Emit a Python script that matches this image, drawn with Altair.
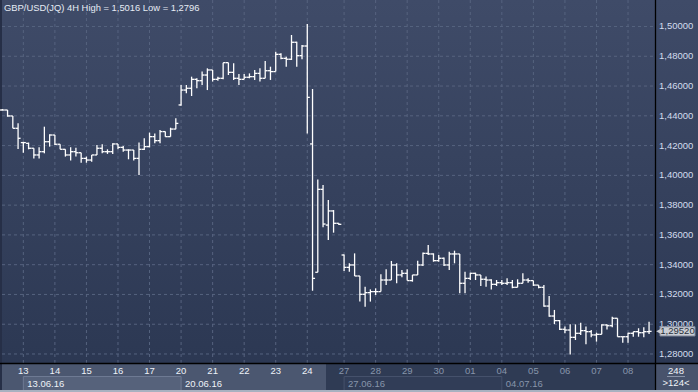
import altair as alt
import pandas as pd

# ---- OHLC data (GBP/USD 4H) ----
opens = [1.4439, 1.4439, 1.4399, 1.4316, 1.4220, 1.4215, 1.4182, 1.4137, 1.4159, 1.4226,
         1.4271, 1.4209, 1.4175, 1.4137, 1.4159, 1.4152, 1.4114, 1.4103, 1.4137, 1.4182,
         1.4159, 1.4159, 1.4211, 1.4188, 1.4170, 1.4170, 1.4114, 1.4175, 1.4193, 1.4260,
         1.4233, 1.4294, 1.4260, 1.4311, 1.4473, 1.4573, 1.4585, 1.4645, 1.4636, 1.4674,
         1.4708, 1.4645, 1.4652, 1.4757, 1.4692, 1.4652, 1.4645, 1.4659, 1.4663, 1.4685,
         1.4652, 1.4703, 1.4697, 1.4813, 1.4786, 1.4780, 1.4894, 1.4804, 1.4869, 1.4211,
         1.3349, 1.3906, 1.3666, 1.3761, 1.3678, 1.3465, 1.3382, 1.3398, 1.3324, 1.3201,
         1.3212, 1.3219, 1.3219, 1.3297, 1.3297, 1.3398, 1.3331, 1.3342, 1.3293, 1.3331,
         1.3398, 1.3476, 1.3472, 1.3427, 1.3443, 1.3398, 1.3472, 1.3472, 1.3275, 1.3308,
         1.3342, 1.3331, 1.3302, 1.3297, 1.3268, 1.3279, 1.3275, 1.3279, 1.3248, 1.3275,
         1.3297, 1.3293, 1.3263, 1.3248, 1.3122, 1.3055, 1.3024, 1.2966, 1.2961, 1.2912,
         1.2939, 1.2957, 1.2950, 1.2928, 1.2932, 1.2995, 1.2990, 1.3040, 1.2916, 1.2916,
         1.2939, 1.2950, 1.2943, 1.2950]
highs = [1.4446, 1.4439, 1.4399, 1.4350, 1.4226, 1.4220, 1.4182, 1.4189, 1.4327, 1.4276,
         1.4271, 1.4209, 1.4175, 1.4189, 1.4186, 1.4152, 1.4126, 1.4137, 1.4204, 1.4209,
         1.4175, 1.4215, 1.4211, 1.4197, 1.4175, 1.4170, 1.4220, 1.4249, 1.4287, 1.4282,
         1.4305, 1.4294, 1.4320, 1.4383, 1.4607, 1.4607, 1.4663, 1.4652, 1.4697, 1.4719,
         1.4708, 1.4663, 1.4757, 1.4757, 1.4753, 1.4681, 1.4681, 1.4685, 1.4708, 1.4719,
         1.4768, 1.4730, 1.4831, 1.4820, 1.4797, 1.4943, 1.4898, 1.4876, 1.5016, 1.4580,
         1.3973, 1.3935, 1.3834, 1.3767, 1.3678, 1.3469, 1.3409, 1.3476, 1.3324, 1.3252,
         1.3234, 1.3241, 1.3335, 1.3369, 1.3425, 1.3409, 1.3364, 1.3369, 1.3331, 1.3427,
         1.3481, 1.3532, 1.3476, 1.3465, 1.3449, 1.3487, 1.3494, 1.3472, 1.3353, 1.3346,
         1.3346, 1.3331, 1.3320, 1.3302, 1.3297, 1.3297, 1.3308, 1.3297, 1.3302, 1.3342,
         1.3308, 1.3293, 1.3263, 1.3263, 1.3190, 1.3096, 1.3029, 1.2984, 1.2999, 1.2999,
         1.3010, 1.2984, 1.2961, 1.2943, 1.2999, 1.2999, 1.3050, 1.3040, 1.2916, 1.2943,
         1.2950, 1.2973, 1.2979, 1.3017]
lows = [1.4435, 1.4394, 1.4316, 1.4177, 1.4152, 1.4175, 1.4114, 1.4114, 1.4148, 1.4193,
        1.4204, 1.4175, 1.4126, 1.4099, 1.4126, 1.4085, 1.4085, 1.4092, 1.4137, 1.4148,
        1.4144, 1.4144, 1.4175, 1.4159, 1.4108, 1.4099, 1.4002, 1.4170, 1.4188, 1.4215,
        1.4215, 1.4260, 1.4260, 1.4309, 1.4468, 1.4551, 1.4533, 1.4585, 1.4607, 1.4573,
        1.4630, 1.4636, 1.4645, 1.4674, 1.4641, 1.4607, 1.4645, 1.4652, 1.4641, 1.4630,
        1.4652, 1.4641, 1.4697, 1.4780, 1.4730, 1.4775, 1.4730, 1.4780, 1.4282, 1.3225,
        1.3349, 1.3651, 1.3566, 1.3615, 1.3666, 1.3357, 1.3353, 1.3324, 1.3152, 1.3118,
        1.3152, 1.3196, 1.3219, 1.3263, 1.3297, 1.3275, 1.3315, 1.3293, 1.3286, 1.3331,
        1.3391, 1.3465, 1.3420, 1.3420, 1.3391, 1.3364, 1.3409, 1.3208, 1.3208, 1.3297,
        1.3297, 1.3257, 1.3252, 1.3234, 1.3257, 1.3263, 1.3263, 1.3241, 1.3248, 1.3275,
        1.3279, 1.3257, 1.3241, 1.3118, 1.3051, 1.3001, 1.2961, 1.2939, 1.2796, 1.2894,
        1.2928, 1.2865, 1.2912, 1.2883, 1.2932, 1.2965, 1.2979, 1.2916, 1.2876, 1.2876,
        1.2916, 1.2916, 1.2912, 1.2934]
closes = [1.4439, 1.4399, 1.4316, 1.4249, 1.4220, 1.4182, 1.4137, 1.4159, 1.4226, 1.4271,
          1.4209, 1.4175, 1.4137, 1.4159, 1.4152, 1.4114, 1.4103, 1.4137, 1.4182, 1.4159,
          1.4159, 1.4211, 1.4188, 1.4170, 1.4170, 1.4114, 1.4175, 1.4193, 1.4260, 1.4233,
          1.4294, 1.4260, 1.4311, 1.4349, 1.4573, 1.4585, 1.4645, 1.4636, 1.4674, 1.4708,
          1.4645, 1.4652, 1.4757, 1.4692, 1.4652, 1.4645, 1.4659, 1.4663, 1.4685, 1.4652,
          1.4703, 1.4697, 1.4813, 1.4786, 1.4780, 1.4894, 1.4804, 1.4869, 1.4524, 1.3308,
          1.3906, 1.3673, 1.3761, 1.3678, 1.3671, 1.3382, 1.3398, 1.3324, 1.3201, 1.3212,
          1.3219, 1.3219, 1.3297, 1.3297, 1.3398, 1.3331, 1.3342, 1.3293, 1.3331, 1.3398,
          1.3476, 1.3472, 1.3427, 1.3443, 1.3398, 1.3472, 1.3472, 1.3275, 1.3308, 1.3342,
          1.3331, 1.3302, 1.3297, 1.3268, 1.3279, 1.3275, 1.3279, 1.3248, 1.3275, 1.3297,
          1.3293, 1.3263, 1.3248, 1.3122, 1.3055, 1.3024, 1.2966, 1.2961, 1.2912, 1.2939,
          1.2957, 1.2950, 1.2928, 1.2932, 1.2995, 1.2990, 1.3040, 1.2916, 1.2916, 1.2939,
          1.2950, 1.2943, 1.2950, 1.2952]

price_ticks = [1.28, 1.30, 1.32, 1.34, 1.36, 1.38, 1.40, 1.42, 1.44, 1.46, 1.48, 1.50]
day_labels = ["13", "14", "15", "16", "17", "20", "21", "22", "23", "24",
              "27", "28", "29", "30", "01", "04", "05", "06", "07", "08"]
day_start = [4, 10, 16, 22, 28, 34, 40, 46, 52, 58,
             65, 71, 77, 83, 89, 95, 101, 107, 113, 119]
week_labels = ["13.06.16", "20.06.16", "27.06.16", "04.07.16"]
week_start = [4, 34, 65, 95]
title_text = "GBP/USD(JQ) 4H High = 1,5016 Low = 1,2796"
bar_total = "248"
bar_shown = ">124<"

FONT = "Liberation Sans"
W, H = 655, 363
xs = alt.Scale(domain=[-0.4374, 124.13], nice=False, zero=False)
ys = alt.Scale(domain=[1.27395, 1.5178], nice=False, zero=False)

bars = pd.DataFrame({"i": list(range(len(opens))), "open": opens, "high": highs,
                     "low": lows, "close": closes})
one = pd.DataFrame({"a": [0]})
grid_y = pd.DataFrame({"p": price_ticks})
days = pd.DataFrame({"i": day_start, "lab": day_labels})
weeks = pd.DataFrame({"i": week_start, "lab": week_labels})
boxes = pd.DataFrame({"i": [week_start[0], week_start[2]], "i2": [week_start[1], week_start[3]],
                      "fill": ["#56627b", "#313d57"], "stroke": ["#6e7a93", "#45516b"]})
last = bars.tail(1)

X = lambda f: alt.X(f, scale=xs, axis=None)
Y = lambda f: alt.Y(f, scale=ys, axis=None)

bg = alt.Chart(one).mark_rect(color=alt.Gradient(
    gradient="linear",
    stops=[alt.GradientStop(color="#3f4b68", offset=0),
           alt.GradientStop(color="#2c3853", offset=1)],
    x1=0, x2=0, y1=0, y2=1)).encode(
    x=alt.value(0), x2=alt.value(698), y=alt.value(0), y2=alt.value(363))

dark_strip = alt.Chart(one).mark_rect(color="#2f3b54").encode(
    x=alt.value(326), x2=alt.value(655), y=alt.value(364), y2=alt.value(392))

corner = alt.Chart(one).mark_rect(color="#48536c").encode(
    x=alt.value(656), x2=alt.value(698), y=alt.value(364), y2=alt.value(392))

week_boxes = alt.Chart(boxes).mark_rect(strokeWidth=1).encode(
    x=X("i:Q"), x2="i2:Q", y=alt.value(376.5), y2=alt.value(391),
    fill=alt.Fill("fill:N", scale=None), stroke=alt.Stroke("stroke:N", scale=None))

left_edge = alt.Chart(one).mark_rect(color="#262f47").encode(
    x=alt.value(0), x2=alt.value(2), y=alt.value(0), y2=alt.value(392))

hgrid = alt.Chart(grid_y).mark_rule(color="#56637f", strokeDash=[3, 3], strokeWidth=1).encode(
    y=Y("p:Q"), x=alt.value(2), x2=alt.value(655))

vgrid = alt.Chart(days).mark_rule(color="#56637f", strokeDash=[3, 3], strokeWidth=1).encode(
    x=X("i:Q"), y=alt.value(0), y2=alt.value(363))

hl = alt.Chart(bars).mark_rule(color="white", strokeWidth=1.3).encode(
    x=X("i:Q"), y=Y("low:Q"), y2="high:Q")

otick = alt.Chart(bars).transform_calculate(xo="datum.i - 0.48").mark_rule(
    color="white", strokeWidth=1.3).encode(x=X("xo:Q"), x2="i:Q", y=Y("open:Q"))

ctick = alt.Chart(bars).transform_calculate(xc="datum.i + 0.48").mark_rule(
    color="white", strokeWidth=1.3).encode(x=X("i:Q"), x2="xc:Q", y=Y("close:Q"))

ylabels = alt.Chart(grid_y).transform_calculate(
    t="replace(format(datum.p, '.5f'), '.', ',')").mark_text(
    font=FONT, fontSize=9.5, color="#d3dcee", align="left", baseline="middle").encode(
    x=alt.value(659), y=Y("p:Q"), text="t:N")

day_text = alt.Chart(days).transform_calculate(
    c="datum.i >= 60 ? '#8795ab' : '#eef2f8'").mark_text(
    font=FONT, fontSize=9.5, align="center", baseline="middle").encode(
    x=X("i:Q"), y=alt.value(371), text="lab:N", color=alt.Color("c:N", scale=None))

week_text = alt.Chart(weeks).transform_calculate(
    c="datum.i >= 60 ? '#8795ab' : '#eef2f8'").mark_text(
    font=FONT, fontSize=9.5, align="left", baseline="middle", dx=4).encode(
    x=X("i:Q"), y=alt.value(383.5), text="lab:N", color=alt.Color("c:N", scale=None))

vsep = alt.Chart(one).mark_rule(color="#000000", strokeWidth=1.3).encode(
    x=alt.value(655.5), y=alt.value(0), y2=alt.value(392))
hsep = alt.Chart(one).mark_rule(color="#000000", strokeWidth=1.3).encode(
    y=alt.value(363.5), x=alt.value(0), x2=alt.value(698))
bottom_edge = alt.Chart(one).mark_rule(color="#a9b1c0", strokeWidth=2).encode(
    y=alt.value(391), x=alt.value(0), x2=alt.value(698))

tag_box = alt.Chart(last).transform_calculate(
    t1="datum.close + 0.0031", t2="datum.close - 0.0031").mark_rect(
    fill="#c9cdd4", stroke="#80889a", strokeWidth=1).encode(
    x=alt.value(660), x2=alt.value(695), y=Y("t1:Q"), y2="t2:Q")
tag_arrow = alt.Chart(last).mark_point(shape="triangle-left", filled=True, size=40,
                                       color="#c9cdd4", opacity=1).encode(
    x=alt.value(659), y=Y("close:Q"))
tag_text = alt.Chart(last).transform_calculate(
    t="replace(format(datum.close, '.5f'), '.', ',')").mark_text(
    font=FONT, fontSize=9.5, color="#2a303c", align="center", baseline="middle").encode(
    x=alt.value(677.5), y=Y("close:Q"), text="t:N")

title = alt.Chart(one).mark_text(font=FONT, fontSize=9.4, color="#e6ebf4",
                                 align="left", baseline="middle").encode(
    x=alt.value(4), y=alt.value(8), text=alt.value(title_text))

c_total = alt.Chart(one).mark_text(font=FONT, fontSize=9.5, color="#f0f3f8",
                                   align="center", baseline="middle").encode(
    x=alt.value(676), y=alt.value(370.5), text=alt.value(bar_total))
c_line = alt.Chart(one).mark_rule(color="#8a94a8", strokeWidth=1).encode(
    y=alt.value(376.5), x=alt.value(667), x2=alt.value(685))
c_shown = alt.Chart(one).mark_text(font=FONT, fontSize=9.5, color="#f0f3f8",
                                   align="center", baseline="middle").encode(
    x=alt.value(676), y=alt.value(383), text=alt.value(bar_shown))

chart = alt.layer(
    bg, dark_strip, corner, week_boxes, left_edge, hgrid, vgrid,
    hl, otick, ctick, ylabels, day_text, week_text,
    vsep, hsep, bottom_edge, tag_box, tag_arrow, tag_text, title,
    c_total, c_line, c_shown
).properties(
    width=W, height=H,
    padding={"left": 0, "top": 0, "right": 43, "bottom": 29},
    autosize=alt.AutoSizeParams(type="none"),
    background="#4b5770"
).configure_view(stroke=None)

chart.save("out.html", embed_options={"renderer": "svg", "actions": False})
